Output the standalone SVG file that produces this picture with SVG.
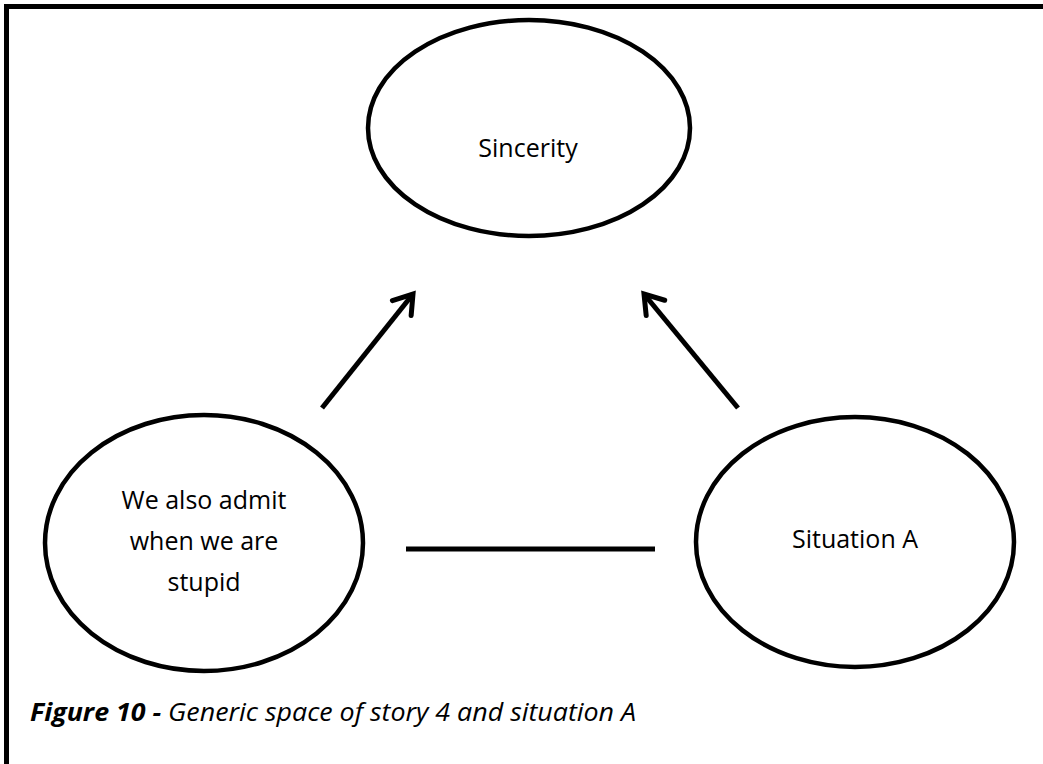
<svg xmlns="http://www.w3.org/2000/svg" width="1043" height="764" viewBox="0 0 1043 764">
<style>
.node{fill:#fff;stroke:#000;stroke-width:4.5}
.lbl{font-family:"Open Sans","Liberation Sans",sans-serif;font-size:25px;fill:#000;text-anchor:middle}
.edge{stroke:#000;stroke-width:5;fill:none;stroke-linecap:butt}
.cap{font-family:"Open Sans","Liberation Sans",sans-serif;font-size:25px;font-style:italic;fill:#000}
</style>
<defs>
<marker id="arr" markerUnits="userSpaceOnUse" markerWidth="40" markerHeight="40" viewBox="-30 -20 40 40" refX="0" refY="0" orient="auto">
<path d="M-18,-12 L0,0 L-18,12" fill="none" stroke="#000" stroke-width="5" stroke-linecap="round" stroke-linejoin="miter"/>
</marker>
</defs>
<rect width="1043" height="764" fill="#fff"/>
<g id="frame">
<line x1="4" y1="6.5" x2="1043" y2="6.5" stroke="#000" stroke-width="5"/>
<line x1="6.5" y1="4" x2="6.5" y2="764" stroke="#000" stroke-width="5"/>
</g>
<g id="connectors">
<line class="edge" x1="322" y1="408" x2="413" y2="294" marker-end="url(#arr)"/>
<line class="edge" x1="738" y1="408" x2="644" y2="294" marker-end="url(#arr)"/>
<line class="edge" x1="406" y1="549" x2="655" y2="549"/>
</g>
<g id="sincerity">
<ellipse class="node" cx="529" cy="128" rx="161" ry="108"/>
<text class="lbl" x="528" y="157">Sincerity</text>
</g>
<g id="admit">
<ellipse class="node" cx="204" cy="543" rx="159" ry="128"/>
<text class="lbl" x="204" y="509">We also admit</text>
<text class="lbl" x="204" y="550">when we are</text>
<text class="lbl" x="204" y="591">stupid</text>
</g>
<g id="situationA">
<ellipse class="node" cx="855" cy="542" rx="159" ry="125"/>
<text class="lbl" x="855" y="548">Situation A</text>
</g>
<g id="caption">
<text class="cap" x="30" y="721" textLength="606" lengthAdjust="spacingAndGlyphs"><tspan font-weight="bold">Figure 10 -</tspan> Generic space of story 4 and situation A</text>
</g>
</svg>
